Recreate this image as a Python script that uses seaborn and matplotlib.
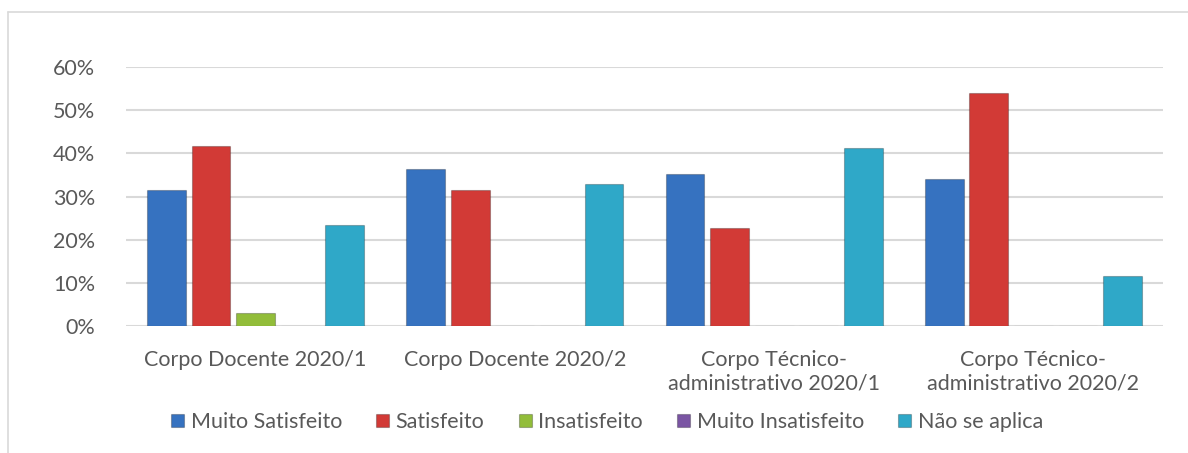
import matplotlib
matplotlib.use("Agg")
import matplotlib.pyplot as plt
from matplotlib.lines import Line2D
from matplotlib.ticker import PercentFormatter
import seaborn as sns
import pandas as pd

# categories (x axis groups)
grupos = ["Corpo Docente 2020/1", "Corpo Docente 2020/2",
          "Corpo Técnico-\nadministrativo 2020/1", "Corpo Técnico-\nadministrativo 2020/2"]
respostas = ["Muito Satisfeito", "Satisfeito", "Insatisfeito", "Muito Insatisfeito", "Não se aplica"]

# series values
muito_satisfeito = [0.315, 0.364, 0.352, 0.340]
satisfeito = [0.417, 0.315, 0.227, 0.541]
insatisfeito = [0.031, 0.0, 0.0, 0.0]
muito_insatisfeito = [0.0, 0.0, 0.0, 0.0]
nao_se_aplica = [0.235, 0.329, 0.412, 0.117]

cores = ["#3672C0", "#D23A36", "#92BD3A", "#7A55A3", "#2FA8C8"]

series = [muito_satisfeito, satisfeito, insatisfeito, muito_insatisfeito, nao_se_aplica]
rows = []
for r, vals in zip(respostas, series):
    for g, v in zip(grupos, vals):
        rows.append({"grupo": g, "resposta": r, "valor": v})
df = pd.DataFrame(rows)

sns.set_style("white")
plt.rcParams['font.family'] = ['Lato', 'DejaVu Sans']
texto = "#595959"

fig = plt.figure(figsize=(11.88, 4.53), dpi=100)
ax = fig.add_axes([0.106, 0.280, 0.873, 0.572])

sns.barplot(data=df, x="grupo", y="valor", hue="resposta", order=grupos, hue_order=respostas,
            palette=cores, saturation=1, width=0.86, gap=0.13, ax=ax, legend=True,
            edgecolor="#00000040", linewidth=0.8)

ax.set_ylim(0, 0.6)
ax.set_yticks([0, 0.1, 0.2, 0.3, 0.4, 0.5, 0.6])
ax.yaxis.set_major_formatter(PercentFormatter(1.0, decimals=0))
ax.grid(axis="y", color="#D9D9D9", linewidth=1.5)
ax.set_axisbelow(True)
for s in ax.spines.values():
    s.set_visible(False)
ax.set_xlabel("")
ax.set_ylabel("")
ax.tick_params(axis="both", length=0, labelsize=15.5, colors=texto)
ax.tick_params(axis="y", pad=22)
ax.tick_params(axis="x", pad=17)
for lbl in ax.get_xticklabels():
    lbl.set_linespacing(1.25)

# legend sits a little left of the plot centre, as in the original
leg = ax.legend(loc="center", bbox_to_anchor=(0.464, -0.37), ncol=5, frameon=False,
                fontsize=15.5, handlelength=0.6, handleheight=0.6, handletextpad=0.3,
                columnspacing=1.6)
for t in leg.get_texts():
    t.set_color(texto)

# outer chart frame (top and left edges visible)
fig.add_artist(Line2D([8 / 1188, 1.0], [1 - 12 / 453, 1 - 12 / 453], color="#D9D9D9", linewidth=1.2))
fig.add_artist(Line2D([8 / 1188, 8 / 1188], [0, 1 - 12 / 453], color="#D9D9D9", linewidth=1.2))

fig.savefig("out.png", dpi=100, facecolor="white")
